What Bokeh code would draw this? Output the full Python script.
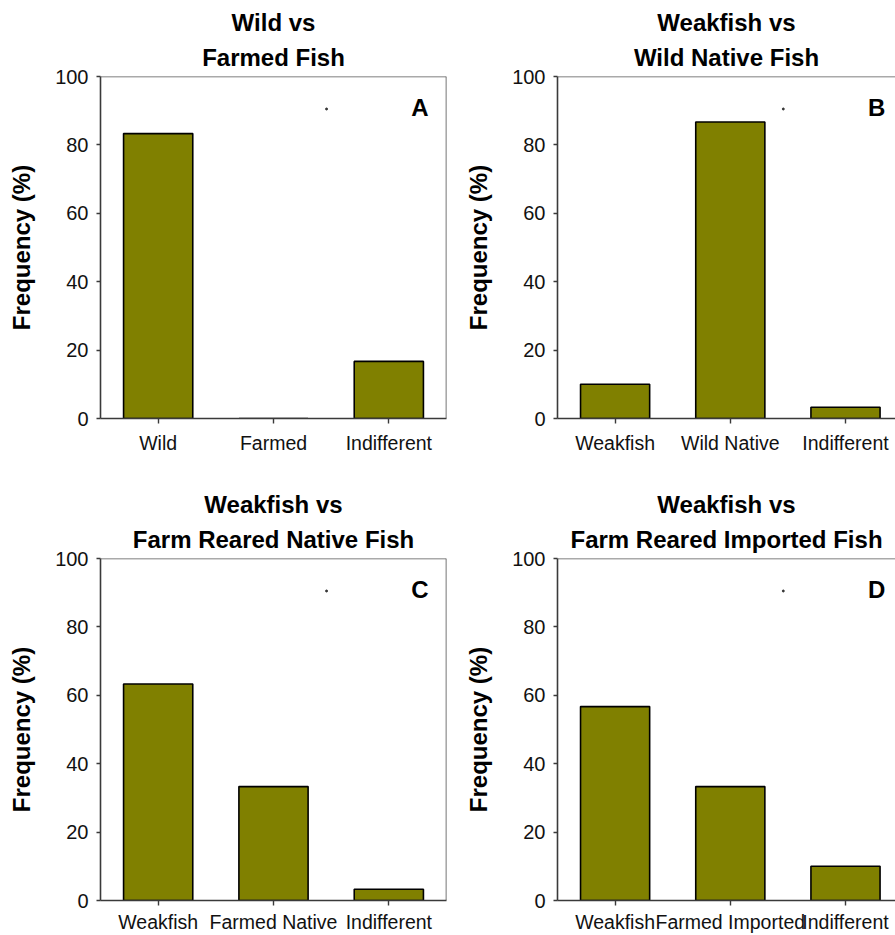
from bokeh.plotting import figure
from bokeh.layouts import column, row
from bokeh.models import FixedTicker, Range1d, Span, Title, Label, ColumnDataSource
from bokeh.embed import file_html
from bokeh.resources import INLINE

# Survey responses: share of respondents (%) preferring each option
titles_a = ["Wild vs", "Farmed Fish"]
cats_a = ["Wild", "Farmed", "Indifferent"]
vals_a = [83.3, 0.0, 16.7]

titles_b = ["Weakfish vs", "Wild Native Fish"]
cats_b = ["Weakfish", "Wild Native", "Indifferent"]
vals_b = [10.0, 86.7, 3.3]

titles_c = ["Weakfish vs", "Farm Reared Native Fish"]
cats_c = ["Weakfish", "Farmed Native", "Indifferent"]
vals_c = [63.3, 33.3, 3.3]

titles_d = ["Weakfish vs", "Farm Reared Imported Fish"]
cats_d = ["Weakfish", "Farmed Imported", "Indifferent"]
vals_d = [56.7, 33.3, 10.0]

panel_letters = ["A", "B", "C", "D"]
y_ticks = [0, 20, 40, 60, 80, 100]

BAR = "#808000"
AXIS = "#3a3a3a"
FONT = "Liberation Sans"


def panel(titles, cats, vals, letter, width, height, border_left, border_right,
          border_top, border_bottom, x_end, label_gap):
    xs = list(range(len(cats)))
    p = figure(width=width, height=height, output_backend="svg",
               toolbar_location=None, x_range=Range1d(-0.5, x_end),
               y_range=Range1d(0, 100),
               min_border_left=border_left, min_border_right=border_right,
               min_border_top=border_top, min_border_bottom=border_bottom)
    p.outline_line_color = None
    p.background_fill_color = "white"
    p.border_fill_color = "white"
    p.grid.visible = False

    src = ColumnDataSource(dict(x=xs, top=vals))
    p.vbar(x="x", top="top", bottom=0, width=0.6, source=src,
           fill_color=BAR, line_color="black", line_width=1.6)

    # frame: top edge and right edge
    p.add_layout(Span(location=100, dimension="width", line_color="#555555",
                      line_width=1.6))
    p.add_layout(Span(location=2.5, dimension="height", line_color="#555555",
                      line_width=1.6))

    # x axis with category names
    xa = p.xaxis[0]
    xa.ticker = FixedTicker(ticks=xs)
    xa.major_label_overrides = {i: c for i, c in enumerate(cats)}
    xa.minor_tick_line_color = None
    xa.major_tick_out = 5
    xa.major_tick_in = 0
    xa.major_label_standoff = label_gap
    xa.major_label_text_font = FONT
    xa.major_label_text_font_size = "19.5px"
    xa.major_label_text_color = "#111111"
    xa.axis_line_color = AXIS
    xa.axis_line_width = 1.6
    xa.major_tick_line_color = AXIS
    xa.major_tick_line_width = 1.4

    ya = p.yaxis[0]
    ya.ticker = FixedTicker(ticks=y_ticks)
    ya.minor_tick_line_color = None
    ya.major_tick_out = 4
    ya.major_tick_in = 0
    ya.major_label_standoff = 8
    ya.major_label_text_font = FONT
    ya.major_label_text_font_size = "20px"
    ya.major_label_text_color = "#111111"
    ya.axis_line_color = AXIS
    ya.axis_line_width = 1.6
    ya.major_tick_line_color = AXIS
    ya.major_tick_line_width = 1.4
    ya.axis_label = "Frequency (%)"
    ya.axis_label_text_font = FONT
    ya.axis_label_text_font_size = "24px"
    ya.axis_label_text_font_style = "bold"
    ya.axis_label_text_color = "black"
    ya.axis_label_standoff = 17

    # two-line title; the line added first sits next to the frame
    for t, sb in ((titles[1], 12), (titles[0], 0)):
        p.add_layout(Title(text=t, align="center", text_font=FONT,
                           text_font_size="24px", text_font_style="bold",
                           text_color="black", standoff=sb), "above")

    p.add_layout(Label(x=2.27, y=91.0, text=letter, text_font=FONT,
                       text_font_size="24px", text_font_style="bold",
                       text_align="center", text_baseline="middle",
                       text_color="black"))
    p.scatter(x=[1.46], y=[90.5], size=2, color="#333333")
    return p


# left panels show the full frame; right panels run to the page edge
right_end = -0.5 + 338 / 115.2
pa = panel(titles_a, cats_a, vals_a, panel_letters[0], 450, 465, 100, 4, 76, 47, 2.5, 8)
pb = panel(titles_b, cats_b, vals_b, panel_letters[1], 445, 465, 107, 0, 76, 47, right_end, 8)
pc = panel(titles_c, cats_c, vals_c, panel_letters[2], 450, 470, 100, 4, 93, 35, 2.5, 5)
pd_ = panel(titles_d, cats_d, vals_d, panel_letters[3], 445, 470, 107, 0, 93, 35, right_end, 5)

layout = column(row(pa, pb), row(pc, pd_))

open("out.html", "w").write(file_html(layout, INLINE))
